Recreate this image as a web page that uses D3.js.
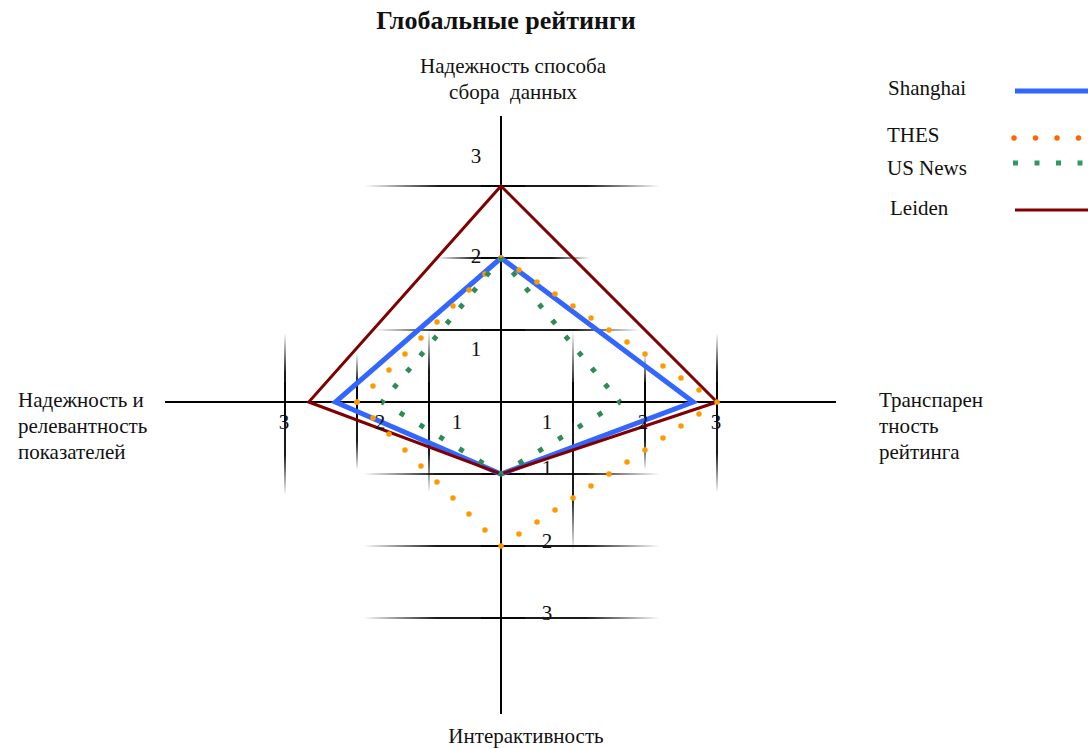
<!DOCTYPE html>
<html>
<head>
<meta charset="utf-8">
<script src="https://cdn.jsdelivr.net/npm/d3@7"></script>
<style>
  body { margin: 0; background: #fff; }
  text { font-family: "Liberation Serif", "Times New Roman", serif; fill: #111; }
</style>
</head>
<body>
<div id="chart"></div>
<script>
// axes, clockwise from the top
var axisNames = ["Надежность способа сбора данных", "Транспарентность рейтинга",
                 "Интерактивность", "Надежность и релевантность показателей"];
var tickValues = [1, 2, 3];

// values per axis (top, right, bottom, left)
var shanghai = [2, 2.67, 1, 2.3];
var thes     = [2, 3, 2, 2];
var usNews   = [2, 1.65, 1, 1.65];
var leiden   = [3, 3, 1, 2.67];

var seriesNames = ["Shanghai", "THES", "US News", "Leiden"];

function draw() {
    "use strict";
    var width = 1088, height = 748,
        cx = 501, cy = 402;

    var svg = d3.select("#chart")
            .append("svg")
            .attr("width", width)
            .attr("height", height);

    var r = d3.scaleLinear().domain([0, 3]).range([0, 216]);
    var angles = [-Math.PI / 2, 0, Math.PI / 2, Math.PI];

    function pt(i, v) {
        return [cx + Math.cos(angles[i]) * r(v), cy + Math.sin(angles[i]) * r(v)];
    }

    //gradients for the faded tick lines
    var defs = svg.append("defs");
    [["fadeH", "0%", "100%", "0%", "0%"], ["fadeV", "0%", "0%", "0%", "100%"]].forEach(function (g) {
        var lg = defs.append("linearGradient").attr("id", g[0])
                .attr("x1", g[1]).attr("x2", g[2]).attr("y1", g[3]).attr("y2", g[4]);
        lg.append("stop").attr("offset", "0%").attr("stop-color", "#000").attr("stop-opacity", 0);
        lg.append("stop").attr("offset", "25%").attr("stop-color", "#000").attr("stop-opacity", 0.9);
        lg.append("stop").attr("offset", "75%").attr("stop-color", "#000").attr("stop-opacity", 0.9);
        lg.append("stop").attr("offset", "100%").attr("stop-color", "#000").attr("stop-opacity", 0);
    });

    // tick extents across each axis [before, after], per axis and tick
    var tickSpan = [
        [[-126, 139], [-64, 89], [-136, 159]],
        [[-72, 150], [-49, 68], [-69, 91]],
        [[-138, 159], [-138, 159], [-138, 159]],
        [[-72, 91], [-49, 68], [-69, 93]]
    ];
    // offsets of the tick numbers from the tick point
    var tickLabelOff = [
        [[-25, 21], [-25, 0], [-25, -28]],
        [[-26, 22], [-2, 22], [-1, 22]],
        [[46, -4], [46, -3], [46, -3]],
        [[28, 22], [23, 22], [-1, 22]]
    ];

    var ticks = svg.append("g").attr("class", "ticks");
    axisNames.forEach(function (name, i) {
        tickValues.forEach(function (v, j) {
            var p = pt(i, v), s = tickSpan[i][j];
            if (i % 2 === 0) {
                ticks.append("rect")
                        .attr("x", p[0] + s[0]).attr("y", p[1] - 1)
                        .attr("width", s[1] - s[0]).attr("height", 2)
                        .attr("fill", "url(#fadeH)");
            } else {
                ticks.append("rect")
                        .attr("x", p[0] - 1).attr("y", p[1] + s[0])
                        .attr("width", 2).attr("height", s[1] - s[0])
                        .attr("fill", "url(#fadeV)");
            }
        });
    });

    //main axis lines
    svg.append("line").attr("x1", cx).attr("x2", cx).attr("y1", 116).attr("y2", 714)
            .attr("stroke", "#000").attr("stroke-width", 2);
    svg.append("line").attr("x1", 165).attr("x2", 836).attr("y1", cy).attr("y2", cy)
            .attr("stroke", "#000").attr("stroke-width", 2);

    // solid core of the ticks next to the axis
    axisNames.forEach(function (name, i) {
        tickValues.forEach(function (v) {
            var p = pt(i, v);
            if (i % 2 === 0) {
                svg.append("line").attr("x1", p[0] - 20).attr("x2", p[0] + 24)
                        .attr("y1", p[1]).attr("y2", p[1])
                        .attr("stroke", "#000").attr("stroke-width", 1.6);
            } else {
                svg.append("line").attr("y1", p[1] - 20).attr("y2", p[1] + 20)
                        .attr("x1", p[0]).attr("x2", p[0])
                        .attr("stroke", "#000").attr("stroke-width", 1.6);
            }
        });
    });

    //series
    var line = d3.line();
    var styles = {
        "Shanghai": {color: "#3366ff", width: 5, type: "solid"},
        "THES":     {color: "#ff9900", width: 5.5, type: "dot"},
        "US News":  {color: "#2e8b57", width: 5, type: "square"},
        "Leiden":   {color: "#800000", width: 3, type: "solid"}
    };
    var seriesData = {"Shanghai": shanghai, "THES": thes, "US News": usNews, "Leiden": leiden};
    var order = ["Shanghai", "Leiden", "THES", "US News"];

    order.forEach(function (name) {
        var vals = seriesData[name], st = styles[name];
        var pts = vals.map(function (v, i) { return pt(i, v); });
        if (st.type === "solid") {
            svg.append("path")
                    .attr("d", line(pts) + "Z")
                    .attr("fill", "none")
                    .attr("stroke", st.color)
                    .attr("stroke-width", st.width)
                    .attr("stroke-linejoin", "miter");
        } else {
            pts.forEach(function (a, i) {
                var b = pts[(i + 1) % pts.length];
                var len = Math.hypot(b[0] - a[0], b[1] - a[1]);
                var step = len / Math.max(1, Math.round(len / 21.5));
                var dash = st.type === "dot" ? [0, step] : [5, step - 5];
                svg.append("path")
                        .attr("d", line([a, b]))
                        .attr("fill", "none")
                        .attr("stroke", st.color)
                        .attr("stroke-width", st.width)
                        .attr("stroke-linecap", st.type === "dot" ? "round" : "butt")
                        .attr("stroke-dasharray", dash.join(" "))
                        .attr("stroke-dashoffset", st.type === "dot" ? 0 : 2.5);
            });
        }
    });

    //tick numbers
    axisNames.forEach(function (name, i) {
        tickValues.forEach(function (v, j) {
            var p = pt(i, v), o = tickLabelOff[i][j];
            svg.append("text")
                    .attr("x", p[0] + o[0]).attr("y", p[1] + o[1])
                    .attr("text-anchor", "middle")
                    .attr("dominant-baseline", "middle")
                    .style("font-size", "21px")
                    .text(v);
        });
    });

    //axis titles
    function multi(x, y, lines, anchor) {
        var t = svg.append("text").attr("x", x).attr("y", y)
                .attr("text-anchor", anchor)
                .style("font-size", "21px")
                .style("white-space", "pre");
        lines.forEach(function (l, k) {
            t.append("tspan").attr("x", x).attr("dy", k === 0 ? 0 : 26).text(l);
        });
    }
    multi(513, 73, ["Надежность способа", "сбора  данных"], "middle");
    multi(879, 407, ["Транспарен", "тность", "рейтинга"], "start");
    multi(18, 407, ["Надежность и", "релевантность", "показателей"], "start");
    multi(526, 743, ["Интерактивность"], "middle");

    //title
    svg.append("text")
            .attr("x", 506).attr("y", 29)
            .attr("text-anchor", "middle")
            .style("font-size", "26px")
            .style("font-weight", "bold")
            .text("Глобальные рейтинги");

    //legend
    var legend = svg.append("g").attr("class", "legend");
    var legendRows = [
        {name: "Shanghai", tx: 888, ty: 95, ly: 91, color: "#3366ff"},
        {name: "THES", tx: 887, ty: 142, ly: 138, color: "#ff6600"},
        {name: "US News", tx: 887, ty: 175, ly: 163, color: "#2e9a62"},
        {name: "Leiden", tx: 890, ty: 215, ly: 210, color: "#800000"}
    ];
    legendRows.forEach(function (d) {
        legend.append("text").attr("x", d.tx).attr("y", d.ty)
                .style("font-size", "21px").text(d.name);
        var st = styles[d.name];
        var sym = legend.append("line")
                .attr("x1", 1015).attr("x2", 1090)
                .attr("y1", d.ly).attr("y2", d.ly)
                .attr("stroke", d.color)
                .attr("stroke-width", st.width);
        if (st.type === "dot") {
            sym.attr("x1", 1014).attr("stroke-dasharray", "0 21.5").attr("stroke-linecap", "round");
        } else if (st.type === "square") {
            sym.attr("x1", 1013).attr("stroke-dasharray", "5 16.5");
        }
    });
}

draw();
</script>
</body>
</html>
